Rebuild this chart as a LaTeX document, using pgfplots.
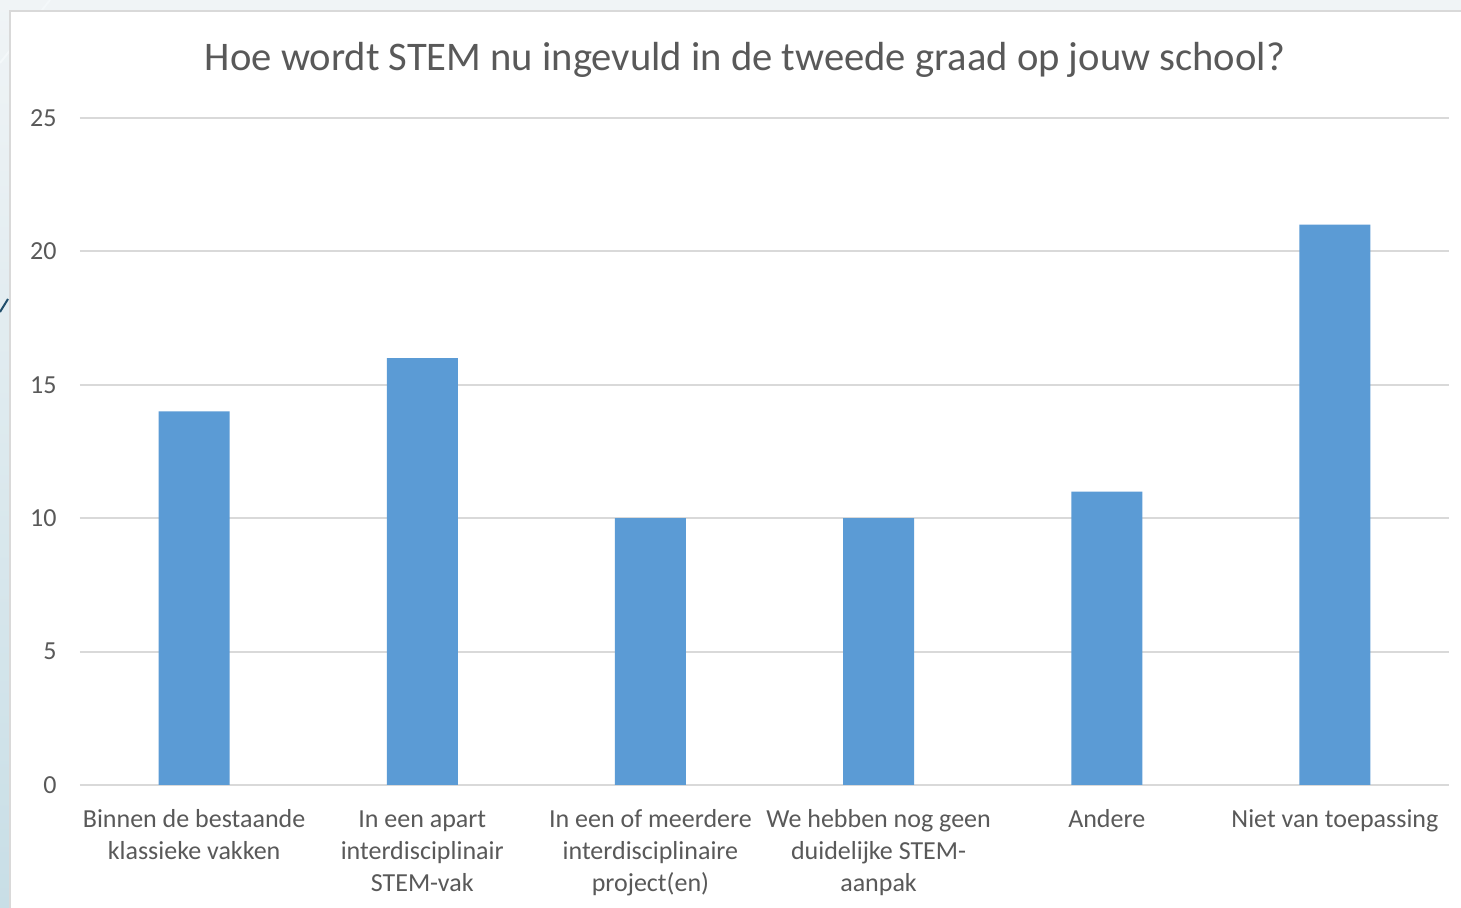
\documentclass[border=0pt]{standalone}
\usepackage{pgfplots}
\pgfplotsset{compat=1.18}
\usepackage{fontspec}
\setmainfont{Carlito}
\definecolor{txt}{HTML}{595959}
\definecolor{gridc}{HTML}{D9D9D9}
\definecolor{barc}{HTML}{5B9BD5}
\definecolor{bgtop}{HTML}{F0F4F6}
\definecolor{bgleft}{HTML}{C8DEE6}
\definecolor{deco}{HTML}{1F4E6B}
\begin{document}
\begin{tikzpicture}
\useasboundingbox (-40pt,-61.5pt) rectangle (690.5pt,392.5pt);
\clip (-40pt,-61.5pt) rectangle (690.5pt,392.5pt);
\fill[bgtop] (-40pt,-61.5pt) rectangle (690.5pt,392.5pt);
\shade[top color=bgtop, bottom color=bgleft] (-40pt,-61.5pt) rectangle (-35pt,392.5pt);
\draw[white!80!bgleft, line width=1pt] (-40pt,361pt) -- (-15pt,392.5pt);
\draw[deco, line width=1pt] (-40pt,236.5pt) -- (-36pt,243pt);
\filldraw[fill=white, draw=gridc, line width=1pt] (-35pt,-80pt) rectangle (700pt,387pt);
\begin{axis}[
  at={(0,0)}, anchor=south west,
  scale only axis, width=684.5pt, height=333.5pt,
  xmin=-0.5, xmax=5.5, ymin=0, ymax=25,
  ytick={0,5,...,25},
  xtick=data,
  xticklabels={{\strut Binnen de bestaande\\klassieke vakken},{\strut In een apart\\interdisciplinair\\STEM-vak},{\strut In een of meerdere\\interdisciplinaire\\project(en)},{\strut We hebben nog geen\\duidelijke STEM-\\aanpak},{\strut Andere},{\strut Niet van toepassing}},
  xmajorgrids=false, ymajorgrids=true,
  major grid style={draw=gridc, line width=1pt},
  axis line style={draw=none},
  major tick length=0pt,
  /pgf/number format/assume math mode=true,
  tick label style={font=\fontsize{13}{16}\selectfont, text=txt},
  xticklabel style={align=center, anchor=north, inner sep=0pt, yshift=-9.8pt},
  yticklabel style={anchor=east, inner sep=0pt, xshift=-11.5pt},
  ybar, bar width=35.5pt,
]
\addplot[fill=barc, draw=none] coordinates {(0,14) (1,16) (2,10) (3,10) (4,11) (5,21)};
\end{axis}
\node[anchor=base, inner sep=0pt, font=\fontsize{20.3}{24}\selectfont, text=txt] at (332.5pt,357pt) {Hoe wordt STEM nu ingevuld in de tweede graad op jouw school?};
\end{tikzpicture}
\end{document}
